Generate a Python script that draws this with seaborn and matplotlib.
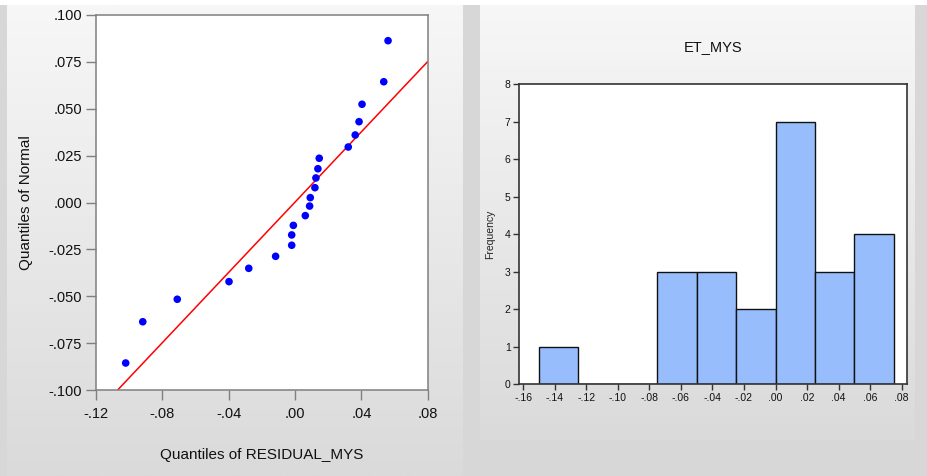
import numpy as np
import pandas as pd
import matplotlib
matplotlib.use("Agg")
import matplotlib.pyplot as plt
from matplotlib.colors import LinearSegmentedColormap
import seaborn as sns

# ---------------- data ----------------
residual_q = [-0.1021, -0.0918, -0.0710, -0.0398, -0.0279, -0.0117, -0.0020, -0.0020,
              -0.0010, 0.0062, 0.0088, 0.0092, 0.0120, 0.0126, 0.0138, 0.0146,
              0.0321, 0.0363, 0.0386, 0.0404, 0.0535, 0.0561]
normal_q = [-0.0856, -0.0636, -0.0516, -0.0422, -0.0351, -0.0287, -0.0228, -0.0173,
            -0.0122, -0.0070, -0.0019, 0.0026, 0.0079, 0.0131, 0.0180, 0.0236,
            0.0296, 0.0360, 0.0431, 0.0524, 0.0644, 0.0863]
ref_intercept = 0.0002
ref_slope = 0.937

qq_xticks = [-0.12, -0.08, -0.04, 0.00, 0.04, 0.08]
qq_xlabels = ["-.12", "-.08", "-.04", ".00", ".04", ".08"]
qq_yticks = [-0.100, -0.075, -0.050, -0.025, 0.000, 0.025, 0.050, 0.075, 0.100]
qq_ylabels = ["-.100", "-.075", "-.050", "-.025", ".000", ".025", ".050", ".075", ".100"]

hist_edges = [-0.150, -0.125, -0.100, -0.075, -0.050, -0.025, 0.000, 0.025, 0.050, 0.075]
hist_counts = [1, 0, 0, 3, 3, 2, 7, 3, 4]
hist_xticks = [-0.16, -0.14, -0.12, -0.10, -0.08, -0.06, -0.04, -0.02, 0.00, 0.02, 0.04, 0.06, 0.08]
hist_xlabels = ["-.16", "-.14", "-.12", "-.10", "-.08", "-.06", "-.04", "-.02",
                ".00", ".02", ".04", ".06", ".08"]
hist_yticks = [0, 1, 2, 3, 4, 5, 6, 7, 8]

# ---------------- style ----------------
sns.set_theme(style="white")
plt.rcParams["font.family"] = ["Liberation Sans", "DejaVu Sans"]

W, H = 927, 476
fig = plt.figure(figsize=(W / 100, H / 100), dpi=100)
fig.patch.set_facecolor("white")

# background panels (gradient)
bg = fig.add_axes([0, 0, 1, 1], zorder=-10)
bg.axis("off")
bg.add_patch(plt.Rectangle((0, 5), W, H - 5, color="#d7d7d7", lw=0))
cmap = LinearSegmentedColormap.from_list("g", ["#f7f7f7", "#dadada"])
grad = np.linspace(0, 1, 256).reshape(-1, 1)
bg.imshow(grad, cmap=cmap, aspect="auto", extent=(7, 463, H, 5), zorder=1)
bg.imshow(grad, cmap=cmap, aspect="auto", extent=(480, 915, 440, 5), zorder=1)
bg.set_xlim(0, W)
bg.set_ylim(H, 0)

spine_col = "#7f7f7f"

# ---------------- left: Q-Q plot ----------------
ax1 = fig.add_axes([96 / W, 1 - 390 / H, (427.7 - 96) / W, 375 / H])
ax1.set_facecolor("white")
qq = pd.DataFrame({"resid": residual_q, "normal": normal_q})
ax1.axline((0, ref_intercept), slope=ref_slope, color="#ff0000", lw=1.1, zorder=2)
sns.scatterplot(data=qq, x="resid", y="normal", ax=ax1, color="#0000ff",
                s=30, edgecolor="none", zorder=3)
ax1.set_xlim(-0.12, 0.08)
ax1.set_ylim(-0.1, 0.1)
ax1.set_xticks(qq_xticks)
ax1.set_xticklabels(qq_xlabels)
ax1.set_yticks(qq_yticks)
ax1.set_yticklabels(qq_ylabels)
ax1.tick_params(axis="both", which="both", direction="out", length=7, width=1,
                color=spine_col, labelsize=10.5, labelcolor="#111111", pad=3,
                bottom=True, left=True, top=False, right=False)
ax1.tick_params(axis="x", pad=5)
for s in ax1.spines.values():
    s.set_color(spine_col)
    s.set_linewidth(1.1)
ax1.set_xlabel("Quantiles of RESIDUAL_MYS", fontsize=11, color="#111111", labelpad=20)
ax1.set_ylabel("Quantiles of Normal", fontsize=11, color="#111111", labelpad=11)

# ---------------- right: histogram ----------------
ax2 = fig.add_axes([519 / W, 1 - 384.3 / H, (906.7 - 519) / W, (384.3 - 84) / H])
ax2.set_facecolor("white")
centers = [(a + b) / 2 for a, b in zip(hist_edges[:-1], hist_edges[1:])]
hd = pd.DataFrame({"x": centers, "w": hist_counts})
sns.histplot(data=hd, x="x", weights="w", bins=hist_edges, ax=ax2,
             color="#97bdfd", alpha=1, edgecolor="#111111", linewidth=1)
ax2.set_xlim(-0.1627, 0.0832)
ax2.set_ylim(0, 8)
ax2.set_xticks(hist_xticks)
ax2.set_xticklabels(hist_xlabels)
ax2.set_yticks(hist_yticks)
ax2.tick_params(axis="both", direction="out", length=4, width=1, color="#333333",
                labelsize=7.5, labelcolor="#111111", pad=2,
                bottom=True, left=True, top=False, right=False)
for s in ax2.spines.values():
    s.set_color("#333333")
    s.set_linewidth(1.2)
ax2.set_xlabel("")
ax2.set_ylabel("Frequency", fontsize=7.5, color="#222222", labelpad=7)
ax2.set_title("ET_MYS", fontsize=10.5, color="#111111", pad=24)

fig.savefig("out.png", dpi=100, facecolor=fig.get_facecolor())
